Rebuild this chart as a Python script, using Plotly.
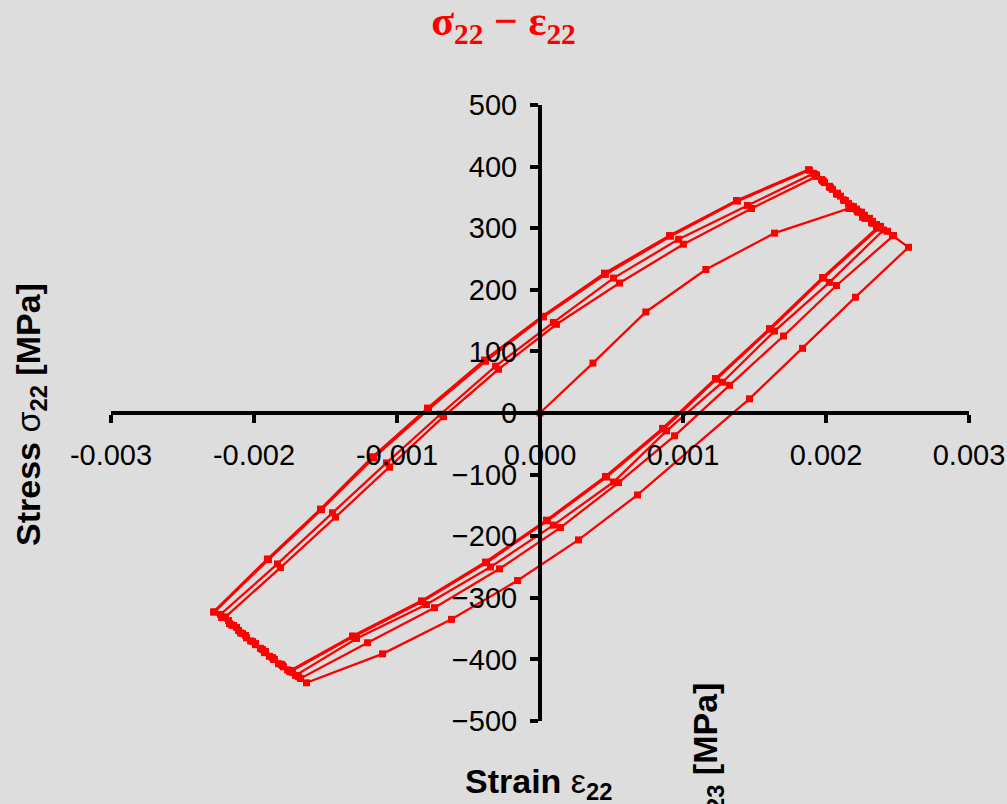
import plotly.graph_objects as go

# ---- data (strain [-], stress [MPa]) ----
initial_strain = [0.0, 0.00037, 0.00074, 0.00116, 0.00164, 0.00216, 0.002255, 0.002353, 0.002465, 0.002577]
initial_stress = [0, 81, 164, 233, 292, 332, 318, 303, 288, 269]

lowerA_strain = [0.002206, 0.001836, 0.001465, 0.000682, 0.000269, -0.000157, -0.000619, -0.001101, -0.001633]
lowerA_stress = [188, 105, 23, -133, -206, -272, -335, -391, -438]
kneeL1_strain = [-0.001689, -0.001745, -0.001808, -0.001871, -0.001941, -0.00201, -0.00208, -0.002143, -0.002199]
kneeL1_stress = [-428, -418, -408, -397, -384, -371, -358, -345, -331]

upper1_strain = [-0.001815, -0.00143, -0.001052, -0.000675, -0.00029, 0.000115, 0.000556, 0.001003, 0.001479, 0.001934]
upper1_stress = [-251, -169, -88, -6, 71, 144, 211, 274, 332, 384]
kneeU2_strain = [0.00199, 0.002045, 0.002101, 0.002157, 0.002213, 0.002269, 0.002325, 0.002381, 0.00243, 0.002472]
kneeU2_stress = [374, 363, 352, 340, 331, 321, 311, 303, 295, 288]

lowerB_strain = [0.002073, 0.001703, 0.001325, 0.000941, 0.000549, 0.000143, -0.000283, -0.000738, -0.001206, -0.001675]
lowerB_stress = [207, 125, 45, -37, -113, -186, -253, -316, -373, -431]
kneeL2_strain = [-0.001731, -0.001794, -0.001857, -0.00192, -0.00199, -0.002059, -0.002122, -0.002178, -0.002234]
kneeL2_stress = [-421, -412, -400, -387, -374, -361, -348, -337, -327]

upper2_strain = [-0.001836, -0.001451, -0.001073, -0.000696, -0.000311, 0.000094, 0.000514, 0.000969, 0.001451, 0.001913]
upper2_stress = [-245, -162, -81, -2, 76, 147, 219, 282, 337, 389]
kneeU3_strain = [0.001969, 0.002024, 0.00208, 0.002136, 0.002192, 0.002248, 0.002304, 0.002353, 0.002402]
kneeU3_stress = [379, 368, 357, 345, 335, 326, 316, 306, 297]

lowerC_strain = [0.002024, 0.00164, 0.001276, 0.000885, 0.000514, 0.000094, -0.000346, -0.000794, -0.001283, -0.00171]
lowerC_stress = [212, 133, 50, -29, -112, -182, -250, -311, -366, -426]
kneeL3_strain = [-0.001766, -0.001829, -0.001892, -0.001955, -0.002024, -0.002094, -0.002157, -0.00222, -0.002276]
kneeL3_stress = [-417, -407, -395, -382, -370, -357, -344, -332, -323]

upper3_strain = [-0.001899, -0.001528, -0.001164, -0.00078, -0.000381, 0.000024, 0.000458, 0.000913, 0.001381, 0.001885]
upper3_stress = [-238, -157, -73, 6, 84, 156, 225, 287, 344, 394]
kneeU4_strain = [0.001934, 0.001983, 0.002031, 0.00208, 0.002129, 0.002178, 0.002227, 0.002276, 0.002325, 0.002367]
kneeU4_stress = [386, 376, 366, 355, 345, 335, 326, 316, 308, 300]

lowerD_strain = [0.001983, 0.001612, 0.001234, 0.000864, 0.000465, 0.000052, -0.000374, -0.000822, -0.001304, -0.001745]
lowerD_stress = [219, 136, 55, -26, -104, -175, -243, -306, -363, -420]
kneeL4_strain = [-0.001801, -0.001864, -0.001927, -0.00199, -0.002052, -0.002108, -0.002171, -0.002227, -0.002283]
kneeL4_stress = [-410, -400, -389, -376, -365, -353, -342, -332, -323]

upper4_strain = [-0.001906, -0.001535, -0.001171, -0.000787, -0.000388, 0.000017, 0.000451, 0.000906, 0.001374, 0.001878]
upper4_stress = [-237, -156, -71, 8, 86, 157, 227, 288, 345, 395]
kneeU5_strain = [0.001927, 0.001976, 0.002024, 0.002073, 0.002122, 0.002171, 0.00222, 0.002269, 0.002318, 0.00236]
kneeU5_stress = [387, 377, 367, 356, 346, 336, 327, 317, 309, 301]

lowerE_strain = [0.001976, 0.001605, 0.001227, 0.000857, 0.000458, 0.000045, -0.000381, -0.000829, -0.001311, -0.001752]
lowerE_stress = [220, 137, 56, -25, -103, -174, -242, -305, -362, -419]

x_ticks = [-0.003, -0.002, -0.001, 0.0, 0.001, 0.002, 0.003]
x_ticktext = ["-0.003", "-0.002", "-0.001", "0.000", "0.001", "0.002", "0.003"]
y_ticks = [-500, -400, -300, -200, -100, 0, 100, 200, 300, 400, 500]

segments_strain = [initial_strain, lowerA_strain, kneeL1_strain, upper1_strain, kneeU2_strain,
                   lowerB_strain, kneeL2_strain, upper2_strain, kneeU3_strain, lowerC_strain,
                   kneeL3_strain, upper3_strain, kneeU4_strain, lowerD_strain, kneeL4_strain,
                   upper4_strain, kneeU5_strain, lowerE_strain]
segments_stress = [initial_stress, lowerA_stress, kneeL1_stress, upper1_stress, kneeU2_stress,
                   lowerB_stress, kneeL2_stress, upper2_stress, kneeU3_stress, lowerC_stress,
                   kneeL3_stress, upper3_stress, kneeU4_stress, lowerD_stress, kneeL4_stress,
                   upper4_stress, kneeU5_stress, lowerE_stress]

strain = [v for s in segments_strain for v in s]
stress = [v for s in segments_stress for v in s]

RED = "#FF0000"
BG = "#DDDDDD"
SANS = "Liberation Sans, Arial, sans-serif"

fig = go.Figure()
fig.add_trace(go.Scatter(
    x=strain, y=stress, mode="lines+markers",
    line=dict(color=RED, width=2.3),
    marker=dict(symbol="square", size=7, color=RED),
    showlegend=False, hoverinfo="skip",
))

axis_common = dict(
    showgrid=False, zeroline=False, showline=True, linewidth=4, linecolor="black",
    ticks="outside", ticklen=8, tickwidth=4, tickcolor="black",
    tickfont=dict(family=SANS, size=29, color="black"),
    anchor="free", position=0.5, automargin=False,
)

fig.update_layout(
    width=1007, height=804, autosize=False,
    margin=dict(l=111, r=38, t=105, b=83, autoexpand=False),
    paper_bgcolor=BG, plot_bgcolor=BG,
    title=dict(
        text="<b>σ<sub>22</sub> − ε<sub>22</sub></b>",
        font=dict(family="Liberation Serif, Times New Roman, serif", size=42, color=RED),
        x=0.5, xref="container", xanchor="center",
        y=1 - 20 / 804, yref="container", yanchor="middle",
    ),
    xaxis=dict(range=[-0.003, 0.003], tickvals=x_ticks, ticktext=x_ticktext,
               ticklabelstandoff=7, **axis_common),
    yaxis=dict(range=[-500, 500], tickvals=y_ticks, ticklabelstandoff=7, **axis_common),
    annotations=[
        dict(text="<b>Stress </b>σ<b><sub>22</sub> [MPa]</b>", textangle=-90,
             xref="paper", yref="paper", x=(30 - 111) / 858, y=(721 - 415) / 616,
             xanchor="center", yanchor="middle", showarrow=False,
             font=dict(family=SANS, size=34, color="black")),
        dict(text="<b>Strain </b>ε<b><sub>22</sub></b>",
             xref="paper", yref="paper", x=(538 - 111) / 858, y=(721 - 783) / 616,
             xanchor="center", yanchor="middle", showarrow=False,
             font=dict(family=SANS, size=34, color="black")),
        dict(text="<b>Stress </b>σ<b><sub>23</sub> [MPa]</b>", textangle=-90,
             xref="paper", yref="paper", x=(707 - 111) / 858, y=(721 - 681) / 616,
             xanchor="center", yanchor="top", showarrow=False,
             font=dict(family=SANS, size=34, color="black")),
    ],
)

fig.write_html("out.html", config={"displayModeBar": False},
               post_script="document.body.style.margin='0';")
